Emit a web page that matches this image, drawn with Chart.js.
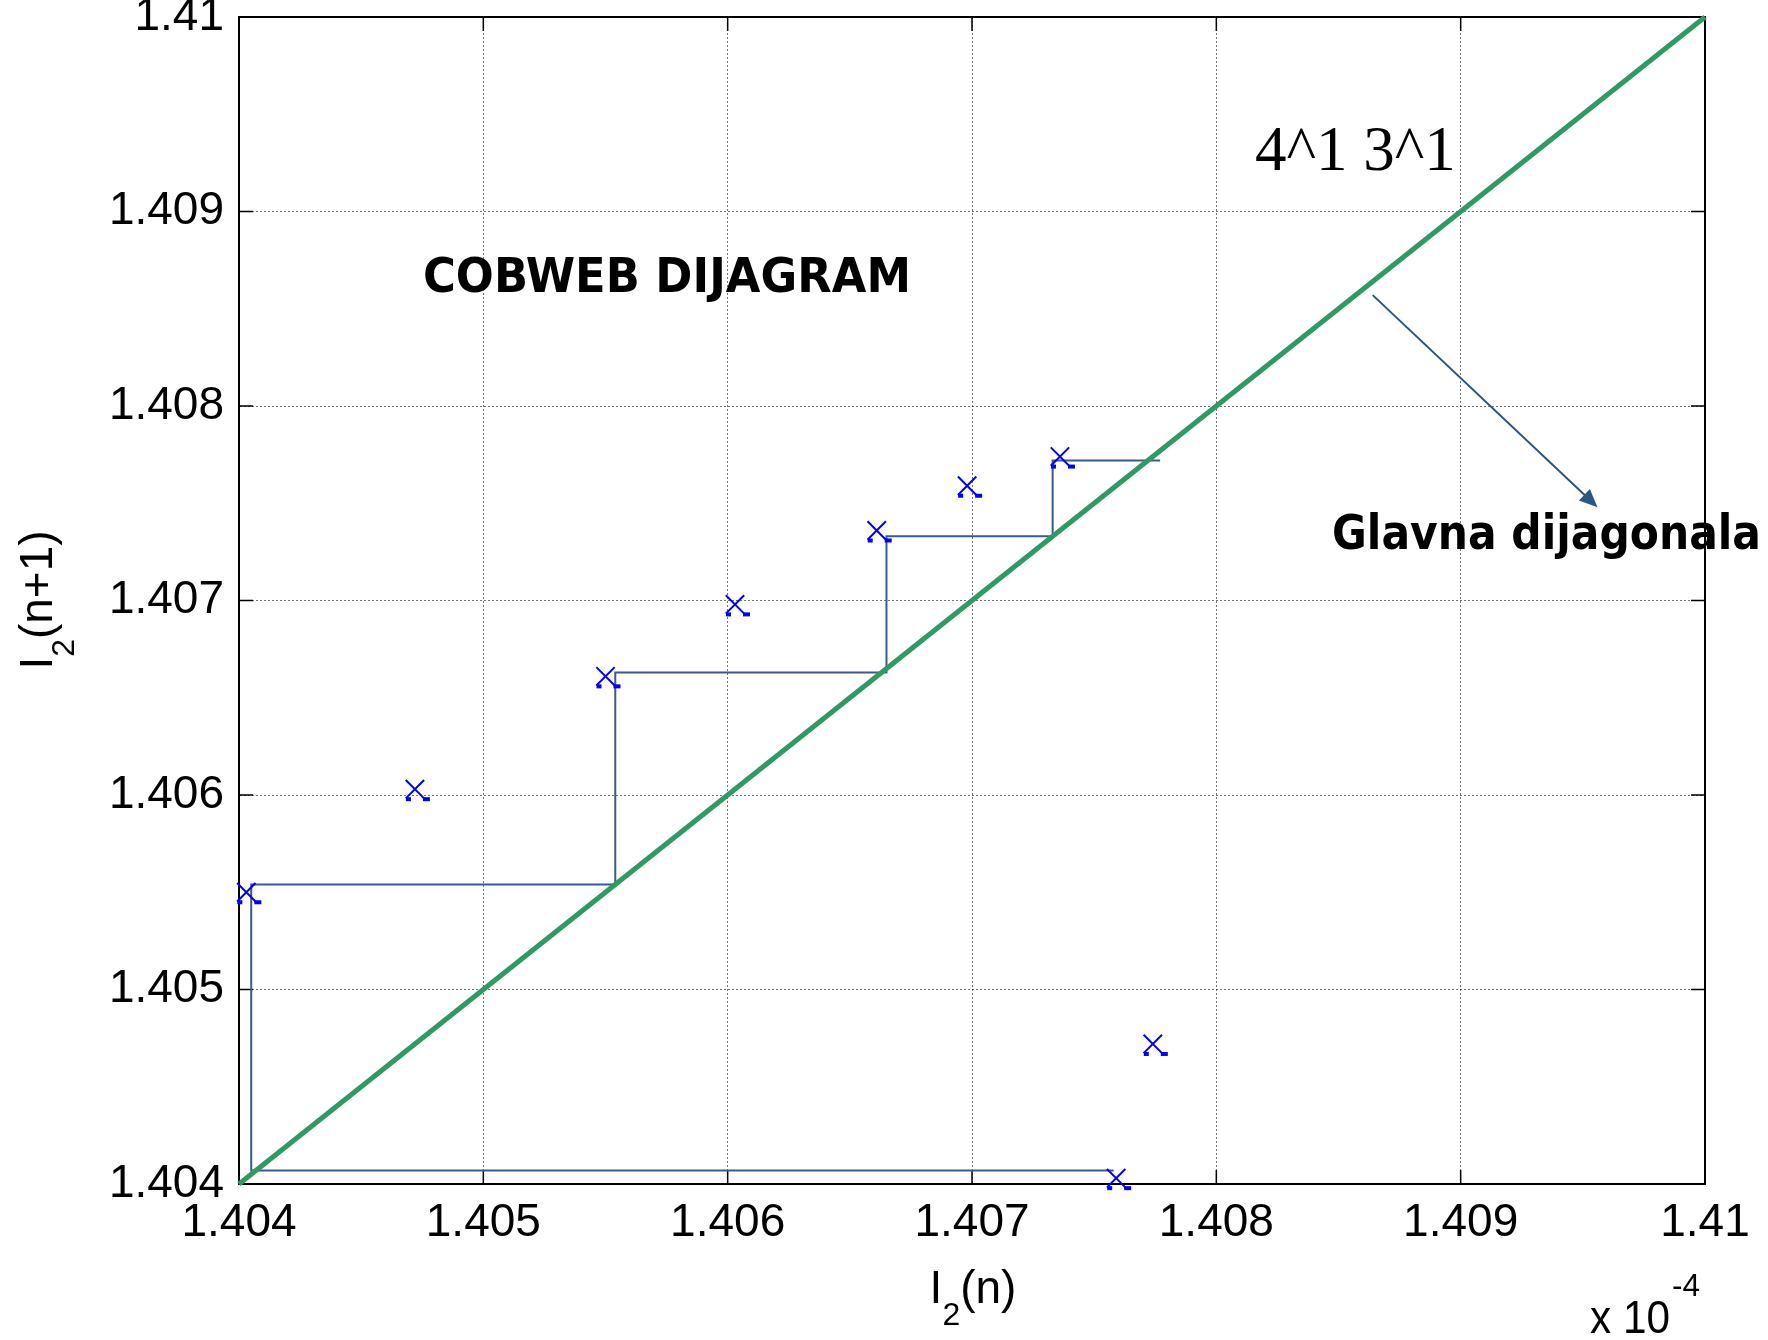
<!DOCTYPE html>
<html>
<head>
<meta charset="utf-8">
<script src="https://cdn.jsdelivr.net/npm/chart.js@4.4.0/dist/chart.umd.min.js"></script>
<style>
  html, body { margin: 0; padding: 0; background: #fff; }
  #wrap { width: 1768px; height: 1340px; }
</style>
</head>
<body>
<div id="wrap"><canvas id="cobweb" width="1768" height="1340"></canvas></div>
<script>
// axis values are in units of 10^-4
const xTickLabels = ['1.404', '1.405', '1.406', '1.407', '1.408', '1.409', '1.41'];
const yTickLabels = ['1.404', '1.405', '1.406', '1.407', '1.408', '1.409', '1.41'];

// iterates: I2(n) against I2(n+1), drawn as crosses
const iterN  = [1.40403, 1.40550, 1.40661, 1.40736, 1.40774, 1.40472, 1.40603, 1.40698, 1.40759];
const iterN1 = [1.40550, 1.40661, 1.40736, 1.40774, 1.40472, 1.40603, 1.40698, 1.40759, 1.40403];

// cobweb staircase corners
const cobX = [1.40758, 1.40405, 1.40405, 1.40554, 1.40554, 1.40665, 1.40665, 1.40733, 1.40733, 1.40777];
const cobY = [1.40407, 1.40407, 1.40554, 1.40554, 1.40663, 1.40663, 1.40733, 1.40733, 1.40772, 1.40772];

// main diagonal
const diagX = [1.404, 1.41];
const diagY = [1.404, 1.41];

// arrow to the diagonal (start, tip)
const arrowX = [1.40864, 1.40956];
const arrowY = [1.40857, 1.40748];

const AXIS_FONT = '"Liberation Sans", Arial, sans-serif';
const BOLD_FONT = 'bold 48px "DejaVu Sans", Verdana, sans-serif';

function pts(xs, ys) {
    return xs.map(function(v, i) { return {x: v, y: ys[i]}; });
}

// text squeezed to a given width (the original bold face is narrower than DejaVu)
function fitText(ctx, text, x, y, width) {
    const w = ctx.measureText(text).width;
    ctx.save();
    ctx.translate(x, y);
    ctx.scale(width / w, 1);
    ctx.fillText(text, 0, 0);
    ctx.restore();
}

// frame, inward ticks, arrow, labels
const decor = {
    id: 'decor',
    beforeDatasetsDraw(chart) {
        const ctx = chart.ctx, a = chart.chartArea;
        const sx = chart.scales.x, sy = chart.scales.y;
        ctx.save();
        ctx.strokeStyle = '#000';
        ctx.lineWidth = 2;
        ctx.beginPath();
        ctx.moveTo(a.left, a.top); ctx.lineTo(a.right, a.top); ctx.lineTo(a.right, a.bottom);
        ctx.stroke();
        ctx.lineWidth = 1.5;
        ctx.beginPath();
        sx.ticks.forEach(function(t) {
            const p = sx.getPixelForValue(t.value);
            ctx.moveTo(p, a.bottom); ctx.lineTo(p, a.bottom - 14);
            ctx.moveTo(p, a.top); ctx.lineTo(p, a.top + 14);
        });
        sy.ticks.forEach(function(t) {
            const p = sy.getPixelForValue(t.value);
            ctx.moveTo(a.left, p); ctx.lineTo(a.left + 14, p);
            ctx.moveTo(a.right, p); ctx.lineTo(a.right - 14, p);
        });
        ctx.stroke();
        ctx.restore();
    },
    afterDatasetsDraw(chart) {
        const ctx = chart.ctx;
        const sx = chart.scales.x, sy = chart.scales.y;
        ctx.save();
        // little blue feet under each cross, like the original render
        ctx.fillStyle = '#0000ff';
        chart.getDatasetMeta(0).data.forEach(function(pt) {
            ctx.fillRect(pt.x - 9, pt.y + 8, 5, 4);
            ctx.fillRect(pt.x + 8, pt.y + 8, 7, 4);
        });
        // arrow
        const x0 = sx.getPixelForValue(arrowX[0]), y0 = sy.getPixelForValue(arrowY[0]);
        const x1 = sx.getPixelForValue(arrowX[1]), y1 = sy.getPixelForValue(arrowY[1]);
        const ang = Math.atan2(y1 - y0, x1 - x0);
        ctx.strokeStyle = '#2b5583';
        ctx.fillStyle = '#2b5583';
        ctx.lineWidth = 2;
        ctx.beginPath();
        ctx.moveTo(x0, y0);
        ctx.lineTo(x1 - 14 * Math.cos(ang), y1 - 14 * Math.sin(ang));
        ctx.stroke();
        ctx.beginPath();
        ctx.moveTo(x1, y1);
        ctx.lineTo(x1 - 18 * Math.cos(ang) + 8 * Math.sin(ang), y1 - 18 * Math.sin(ang) - 8 * Math.cos(ang));
        ctx.lineTo(x1 - 18 * Math.cos(ang) - 8 * Math.sin(ang), y1 - 18 * Math.sin(ang) + 8 * Math.cos(ang));
        ctx.closePath();
        ctx.fill();
        ctx.restore();
    },
    afterDraw(chart) {
        const ctx = chart.ctx;
        ctx.save();
        ctx.fillStyle = '#000';
        ctx.textBaseline = 'alphabetic';
        ctx.textAlign = 'left';

        ctx.font = BOLD_FONT;
        fitText(ctx, 'COBWEB DIJAGRAM', 423, 292, 488);
        fitText(ctx, 'Glavna dijagonala', 1332, 549, 429);

        ctx.font = '63px "Liberation Serif", "Times New Roman", serif';
        ctx.fillText('4^1 3^1', 1255, 170);

        // x axis title I2(n)
        const big = '46px ' + AXIS_FONT, small = '32px ' + AXIS_FONT;
        ctx.font = big;
        const wI = ctx.measureText('I').width, wP = ctx.measureText('(n)').width;
        ctx.font = small;
        const w2 = ctx.measureText('2').width;
        let x = 973 - (wI + w2 + wP) / 2;
        ctx.font = big; ctx.fillText('I', x, 1303);
        ctx.font = small; ctx.fillText('2', x + wI, 1325);
        ctx.font = big; ctx.fillText('(n)', x + wI + w2, 1303);

        // y axis title I2(n+1)
        ctx.save();
        ctx.translate(52, 600);
        ctx.rotate(-Math.PI / 2);
        ctx.font = big;
        const wP1 = ctx.measureText('(n+1)').width;
        x = -(wI + w2 + wP1) / 2;
        ctx.fillText('I', x, 0);
        ctx.font = small; ctx.fillText('2', x + wI, 22);
        ctx.font = big; ctx.fillText('(n+1)', x + wI + w2, 0);
        ctx.restore();

        // exponent label
        ctx.font = '46px ' + AXIS_FONT;
        fitText(ctx, 'x 10', 1590, 1333, 80);
        ctx.font = '32px ' + AXIS_FONT;
        fitText(ctx, '-4', 1672, 1296, 28);
        ctx.restore();
    }
};

const gridOpts = { color: 'rgba(0,0,0,0.55)', lineWidth: 1, drawTicks: false };
const borderOpts = { display: true, color: '#000', width: 2, dash: [2, 2] };

new Chart(document.getElementById('cobweb'), {
    type: 'scatter',
    data: {
        datasets: [{
            label: 'iterates',
            data: pts(iterN, iterN1),
            pointStyle: 'crossRot',
            pointRadius: 13,
            borderColor: '#0000ff',
            pointBorderColor: '#0000ff',
            borderWidth: 2,
            pointBorderWidth: 2,
            showLine: false,
            clip: false,
            order: 0
        }, {
            label: 'diagonal',
            data: pts(diagX, diagY),
            borderColor: '#2f9a64',
            borderWidth: 5,
            showLine: true,
            pointRadius: 0,
            clip: false,
            order: 1
        }, {
            label: 'cobweb',
            data: pts(cobX, cobY),
            borderColor: '#3a5b8c',
            borderWidth: 2,
            showLine: true,
            pointRadius: 0,
            order: 2
        }]
    },
    options: {
        responsive: false,
        animation: false,
        devicePixelRatio: 1,
        layout: { padding: { left: 0, top: 17, right: 63, bottom: 0 } },
        plugins: { legend: { display: false }, tooltip: { enabled: false } },
        scales: {
            x: {
                type: 'linear',
                min: 1.404,
                max: 1.41,
                afterBuildTicks: function(scale) {
                    scale.ticks = xTickLabels.map(function(s) { return {value: parseFloat(s)}; });
                },
                afterFit: function(scale) {
                    scale.height = 1340 - 1184;
                    scale.paddingLeft = 0; scale.paddingRight = 0;
                    scale.paddingTop = 0; scale.paddingBottom = 0;
                },
                ticks: {
                    padding: 12,
                    color: '#000',
                    font: { family: AXIS_FONT, size: 46 },
                    maxRotation: 0,
                    autoSkip: false,
                    callback: function(v, i) { return xTickLabels[i]; }
                },
                grid: gridOpts,
                border: borderOpts
            },
            y: {
                type: 'linear',
                min: 1.404,
                max: 1.41,
                afterBuildTicks: function(scale) {
                    scale.ticks = yTickLabels.map(function(s) { return {value: parseFloat(s)}; });
                },
                afterFit: function(scale) {
                    scale.width = 239;
                    scale.paddingLeft = 0; scale.paddingRight = 0;
                    scale.paddingTop = 0; scale.paddingBottom = 0;
                },
                ticks: {
                    padding: 15,
                    color: '#000',
                    font: { family: AXIS_FONT, size: 46 },
                    autoSkip: false,
                    callback: function(v, i) { return yTickLabels[i]; }
                },
                grid: gridOpts,
                border: borderOpts
            }
        }
    },
    plugins: [decor]
});
</script>
</body>
</html>
